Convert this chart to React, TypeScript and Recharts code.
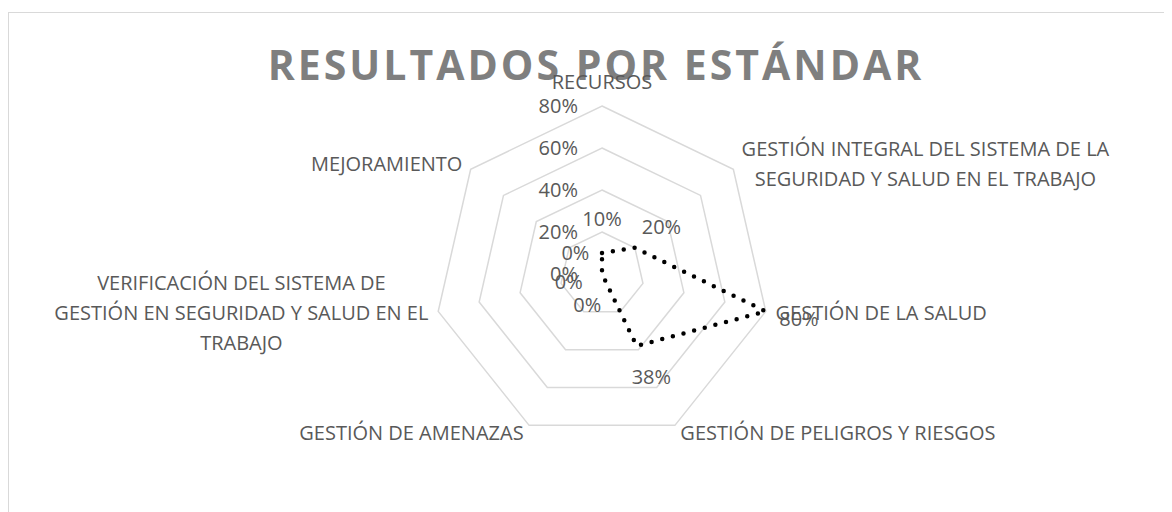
import React from "react";
import {
  RadarChart,
  Radar,
  PolarGrid,
  PolarAngleAxis,
  PolarRadiusAxis,
} from "recharts";

// categories, clockwise from the top ("\n" = line break in the label)
const categories = [
  "RECURSOS",
  "GESTIÓN INTEGRAL DEL SISTEMA DE LA\nSEGURIDAD Y SALUD EN EL TRABAJO",
  "GESTIÓN DE LA SALUD",
  "GESTIÓN DE PELIGROS Y RIESGOS",
  "GESTIÓN DE AMENAZAS",
  "VERIFICACIÓN DEL SISTEMA DE\nGESTIÓN EN SEGURIDAD Y SALUD EN EL\nTRABAJO",
  "MEJORAMIENTO",
];
// percent
const resultados = [10, 20, 80, 38, 0, 0, 0];
const radiusTicks = [0, 20, 40, 60, 80];

const data = categories.map((c, i) => ({ estandar: c, valor: resultados[i] }));

const RAD = Math.PI / 180;
const FONT = '"Open Sans", sans-serif';
const LABEL = "#595959";

const pct = (v: number) => `${Math.round(v)}%`;

let ctx: CanvasRenderingContext2D | null = null;
const measure = (s: string, size: number) => {
  if (!ctx) ctx = document.createElement("canvas").getContext("2d");
  if (!ctx) return s.length * size * 0.6;
  ctx.font = `${size}px "Open Sans"`;
  return ctx.measureText(s).width;
};

const AngleTick = (props: any) => {
  const { x, y, payload } = props;
  const lines: string[] = String(payload.value).split("\n");
  const c = Math.cos(payload.coordinate * RAD);
  const fs = 20;
  const lh = 30;
  if (Math.abs(c) < 0.1) {
    return (
      <text x={x} y={y - 9} textAnchor="middle" fill={LABEL} fontSize={fs} fontFamily={FONT}>
        {lines[0]}
      </text>
    );
  }
  const w = Math.max(...lines.map((l) => measure(l, fs)));
  const mid = c > 0 ? x + 2 + w / 2 : x - 2 - w / 2;
  const top = y - ((lines.length - 1) * lh) / 2 + 7;
  return (
    <text textAnchor="middle" fill={LABEL} fontSize={fs} fontFamily={FONT}>
      {lines.map((l, i) => (
        <tspan key={i} x={mid} y={top + i * lh}>
          {l}
        </tspan>
      ))}
    </text>
  );
};

const RadiusTick = (props: any) => {
  const { x, y, payload } = props;
  return (
    <text x={x - 24} y={y + 7} textAnchor="end" fill={LABEL} fontSize={20} fontFamily={FONT}>
      {pct(payload.value)}
    </text>
  );
};

const ValueLabel = (props: any) => {
  const { cx, cy, payload, index } = props;
  const p = payload || {};
  const angle = p.angle ?? 90 - (index * 360) / categories.length;
  const a = angle * RAD;
  const lx = cx + 34 * Math.cos(a);
  const ly = cy - 34 * Math.sin(a);
  return (
    <text key={`lbl-${index}`} x={lx} y={ly + 7} textAnchor="middle" fill={LABEL} fontSize={20} fontFamily={FONT}>
      {pct(p.value ?? resultados[index])}
    </text>
  );
};

export default function App() {
  return (
    <div
      style={{
        position: "relative",
        width: 1164,
        height: 504,
        overflow: "hidden",
        fontFamily: FONT,
      }}
    >
      <div
        style={{
          position: "absolute",
          left: 0,
          top: 4,
          width: 1400,
          height: 800,
          borderTop: "1.5px solid #d9d9d9",
          borderLeft: "1.5px solid #d9d9d9",
          boxSizing: "border-box",
        }}
      />
      <div
        style={{
          position: "absolute",
          left: 0,
          width: 1176,
          top: 30,
          textAlign: "center",
          fontSize: 41,
          lineHeight: "52px",
          fontWeight: 700,
          letterSpacing: 3,
          color: "#7f7f7f",
        }}
      >
        RESULTADOS POR ESTÁNDAR
      </div>
      <div style={{ position: "absolute", left: 0, top: 0 }}>
        <RadarChart
          width={1164}
          height={504}
          data={data}
          cx={594}
          cy={266}
          outerRadius={168}
          margin={{ top: 0, right: 0, bottom: 0, left: 0 }}
        >
          <PolarGrid gridType="polygon" radialLines={false} stroke="#d9d9d9" strokeWidth={1.5} />
          <PolarAngleAxis dataKey="estandar" tick={AngleTick} tickLine={false} axisLine={false} />
          <PolarRadiusAxis
            angle={90}
            type="number"
            domain={[0, 80]}
            allowDataOverflow
            ticks={radiusTicks}
            tick={RadiusTick}
            axisLine={false}
            tickLine={false}
          />
          <Radar
            dataKey="valor"
            stroke="#000000"
            strokeWidth={4.5}
            strokeDasharray="0 11"
            strokeLinecap="round"
            fill="none"
            fillOpacity={0}
            dot={ValueLabel}
            isAnimationActive={false}
          />
        </RadarChart>
      </div>
    </div>
  );
}
